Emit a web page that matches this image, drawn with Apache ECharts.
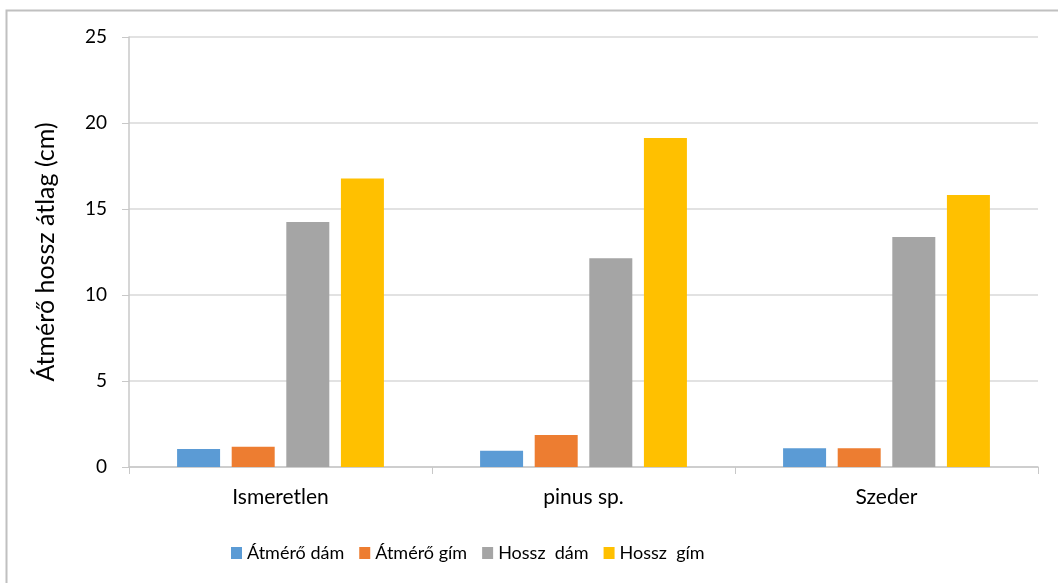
<!DOCTYPE html>
<html>
<head>
<meta charset="utf-8">
<script src="https://cdn.jsdelivr.net/npm/echarts@6/dist/echarts.min.js"></script>
<style>
  html, body { margin: 0; padding: 0; background: #fff; }
  #chart { width: 1058px; height: 583px; }
</style>
</head>
<body>
<div id="chart"></div>
<script>
// categories and series
const categories = ['Ismeretlen', 'pinus sp.', 'Szeder']
const atmeroDam = [1.05, 0.95, 1.09]
const atmeroGim = [1.18, 1.86, 1.09]
const hosszDam = [14.24, 12.13, 13.37]
const hosszGim = [16.78, 19.13, 15.81]
const seriesNames = ['Átmérő dám', 'Átmérő gím', 'Hossz  dám', 'Hossz  gím']
const colors = ['#5b9bd5', '#ed7d31', '#a5a5a5', '#ffc000']

const font = 'Lato, "Open Sans", sans-serif'
const chart = echarts.init(document.getElementById('chart'))

function bar(name, data) {
  return {
    name: name,
    type: 'bar',
    data: data,
    barWidth: 43,
    barGap: '27%',
    itemStyle: { borderWidth: 0 }
  }
}

chart.setOption({
  color: colors,
  animation: false,
  textStyle: { fontFamily: font },
  graphic: [{
    type: 'rect',
    left: 4,
    top: 8,
    shape: { width: 1070, height: 600 },
    style: { fill: 'none', stroke: '#c0c0c0', lineWidth: 2 },
    silent: true
  }],
  grid: {
    left: 129,
    right: 20,
    top: 37,
    bottom: 116
  },
  legend: {
    top: 539,
    left: 226,
    itemWidth: 11,
    itemHeight: 12,
    itemGap: 15,
    icon: 'rect',
    textStyle: { fontSize: 18, color: '#000', fontFamily: font },
    data: seriesNames
  },
  xAxis: {
    type: 'category',
    data: categories,
    axisLine: { lineStyle: { color: '#c8c8c8', width: 1.5 } },
    axisTick: { show: true, length: 7, lineStyle: { color: '#c8c8c8' } },
    axisLabel: { fontSize: 21, color: '#000', margin: 20 }
  },
  yAxis: {
    type: 'value',
    min: 0,
    max: 25,
    interval: 5,
    name: 'Átmérő hossz átlag (cm)',
    nameLocation: 'middle',
    nameGap: 71,
    nameTextStyle: { fontSize: 25, color: '#000', fontFamily: font },
    axisLine: { show: true, lineStyle: { color: '#c8c8c8', width: 1.5 } },
    axisTick: { show: true, length: 7, lineStyle: { color: '#c8c8c8' } },
    axisLabel: { fontSize: 19, color: '#000', margin: 22 },
    splitLine: { lineStyle: { color: '#d9d9d9', width: 1.5 } }
  },
  series: [
    bar(seriesNames[0], atmeroDam),
    bar(seriesNames[1], atmeroGim),
    bar(seriesNames[2], hosszDam),
    bar(seriesNames[3], hosszGim)
  ]
})
</script>
</body>
</html>
